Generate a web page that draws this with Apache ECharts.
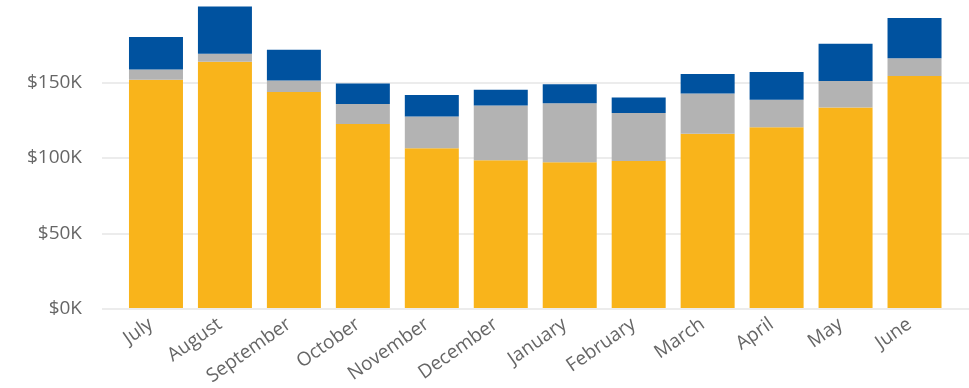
<!DOCTYPE html>
<html>
<head>
<meta charset="utf-8">
<script src="https://cdn.jsdelivr.net/npm/echarts@6/dist/echarts.min.js"></script>
<style>
  html, body { margin: 0; padding: 0; background: #ffffff; }
  #chart { width: 969px; height: 388px; }
</style>
</head>
<body>
<div id="chart"></div>
<script>
// Months (x-axis categories)
const categories = ['July', 'August', 'September', 'October', 'November', 'December',
  'January', 'February', 'March', 'April', 'May', 'June'];

// Stacked segments, values in $K (bottom to top)
const yellowValues = [151.7, 163.7, 143.6, 122.3, 106.1, 98.1, 96.8, 97.7, 115.7, 120.1, 133.3, 154.2];
const grayValues   = [6.7, 5.3, 7.6, 13.3, 21.1, 36.4, 39.2, 31.9, 26.9, 18.3, 17.6, 11.7];
const blueValues   = [21.6, 31.4, 20.4, 13.5, 14.4, 10.6, 12.6, 10.2, 12.9, 18.4, 24.7, 26.8];

// Y-axis ticks (in $K)
const yTicks = [0, 50, 100, 150];
const yMaxBars = 204;   // extent of the bar axis
const yMaxGrid = 190;   // extent of the gridline axis (same pixel scale)

const FONT = 'Open Sans';
const PX_PER_K = 308 / yMaxBars;
const chart = echarts.init(document.getElementById('chart'), null, { renderer: 'canvas' });

const option = {
  animation: false,
  backgroundColor: '#ffffff',
  grid: [
    { left: 102, right: 0, top: 309 - yMaxGrid * PX_PER_K, bottom: 79 },
    { left: 121.5, right: 20, top: 1, bottom: 79 }
  ],
  xAxis: [
    { gridIndex: 0, type: 'category', data: [''], show: false },
    {
      gridIndex: 1, type: 'category', data: categories,
      axisLine: { show: false }, axisTick: { show: false }, splitLine: { show: false },
      axisLabel: { rotate: 35, margin: 11, interval: 0, padding: [0, 6, 0, 0],
        color: '#666666', fontFamily: FONT, fontSize: 19 }
    }
  ],
  yAxis: [
    {
      gridIndex: 0, type: 'value', min: 0, max: yMaxGrid, interval: 50,
      axisLine: { show: false }, axisTick: { show: false },
      axisLabel: {
        margin: 20, color: '#666666', fontFamily: FONT, fontSize: 19,
        formatter: function (v) { return yTicks.indexOf(v) >= 0 ? '$' + v + 'K' : ''; }
      },
      splitLine: { show: true, showMaxLine: false, lineStyle: { color: '#ececec', width: 2 } }
    },
    { gridIndex: 1, type: 'value', min: 0, max: yMaxBars, interval: 50, show: false }
  ],
  series: [
    { name: 'Yellow', type: 'bar', stack: 'total', xAxisIndex: 1, yAxisIndex: 1,
      barWidth: 54, data: yellowValues, itemStyle: { color: '#F9B41B' } },
    { name: 'Gray', type: 'bar', stack: 'total', xAxisIndex: 1, yAxisIndex: 1,
      barWidth: 54, data: grayValues, itemStyle: { color: '#B3B3B3' } },
    { name: 'Blue', type: 'bar', stack: 'total', xAxisIndex: 1, yAxisIndex: 1,
      barWidth: 54, data: blueValues, itemStyle: { color: '#00529F' } }
  ]
};
chart.setOption(option);
</script>
</body>
</html>
